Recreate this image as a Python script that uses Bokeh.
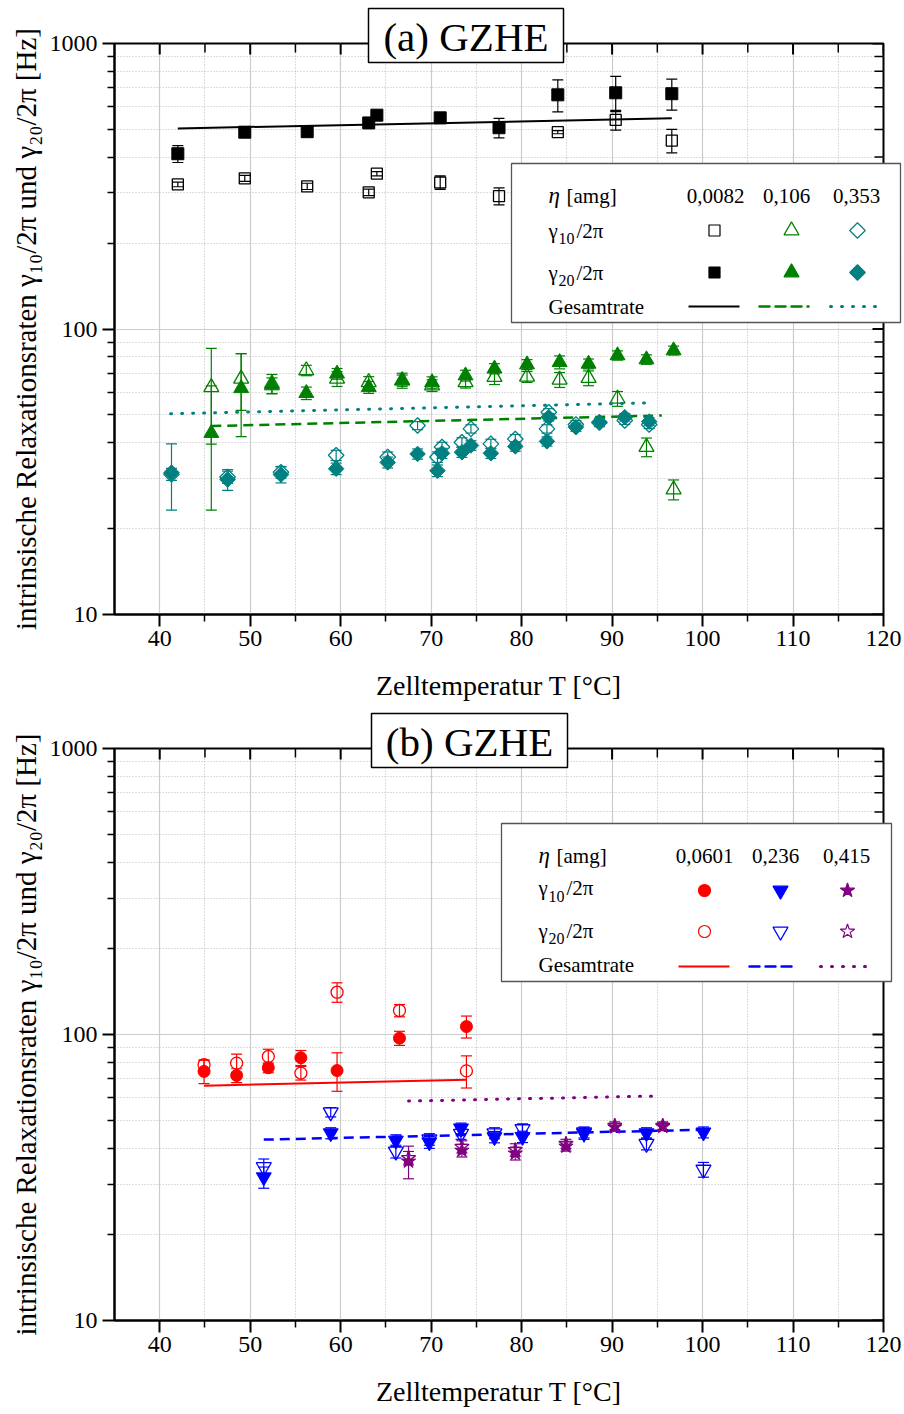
import math
from bokeh.plotting import figure
from bokeh.models import (Range1d, LinearScale, FixedTicker, BasicTickFormatter,
                          ColumnDataSource, Whisker, TeeHead, GridBox, Column)
from bokeh.core.properties import value
from bokeh.embed import file_html
from bokeh.resources import INLINE

FONT = "Liberation Serif"

# ---------------- axis ticks ----------------
x_ticks = [40, 50, 60, 70, 80, 90, 100, 110, 120]
x_minor = [45, 55, 65, 75, 85, 95, 105, 115]
y_ticks = [10, 100, 1000]
y_minor = [20, 30, 40, 50, 60, 70, 80, 90, 200, 300, 400, 500, 600, 700, 800, 900]

# ---------------- panel (a) data ----------------
a1_T = [42.0, 49.4, 56.3, 63.1, 64.0, 71.0, 77.5, 84.0, 90.4, 96.6]
a1_g20 = [411, 489, 491, 527, 561, 549, 507, 661, 672, 667]
a1_g20_err = [28, 12, 12, 15, 12, 12, 40, 85, 95, 83]
a1_g10 = [321, 337, 316, 301, 350, 326, 292, 489, 540, 457]
a1_g10_err = [6, 8, 8, 8, 6, 18, 20, 6, 43, 43]
a1_fit_T = [42.0, 96.6]
a1_fit = [504, 547]

a2_T = [45.7, 49.0, 52.4, 56.2, 59.6, 63.1, 66.8, 70.1, 73.8, 77.0, 80.6, 84.2, 87.4, 90.6, 93.8, 96.8]
a2_g20 = [43.2, 62.0, 63.4, 59.6, 69.7, 62.5, 66.0, 65.0, 68.7, 72.6, 75.1, 76.5, 75.5, 80.8, 78.2, 84.1]
a2_g20_err = [20, 20, 4, 3, 3, 3, 3, 3, 3, 3, 3, 4, 3, 3, 3, 3]
a2_g10 = [62.5, 66.9, 64.3, 71.6, 66.9, 65.1, 66.0, 63.4, 65.1, 67.9, 68.0, 66.4, 67.3, 57.0, 38.6, 27.4]
a2_g10_err = [23, 15, 5, 3, 4, 3, 4, 3, 3, 4, 3, 4, 4, 3.4, 2.9, 2.2]
a2_fit_T = [45.7, 95.5]
a2_fit = [45.7, 49.8]

a3_T = [41.3, 47.5, 53.4, 59.5, 65.2, 68.5, 70.7, 71.2, 73.4, 74.4, 76.6, 79.3, 82.8, 83.0, 86.0, 88.6, 91.4, 94.1]
a3_g20 = [31.4, 29.7, 30.9, 32.4, 34.1, 36.5, 31.9, 36.7, 37.0, 39.1, 36.7, 38.8, 40.4, 49.1, 45.3, 47.2, 49.1, 47.4]
a3_g20_err = [8.2, 2.5, 2, 1.5, 1.5, 1.5, 1.5, 1.5, 1.5, 1.5, 1.5, 1.5, 1.5, 1.5, 1.5, 1.5, 1.5, 1.5]
a3_g10 = [31.0, 30.3, 31.5, 36.1, 35.6, 45.9, 35.6, 38.6, 40.1, 44.7, 39.6, 41.2, 44.7, 51.1, 46.3, 47.0, 47.8, 46.3]
a3_g10_err = [1.5, 1.5, 1.5, 1.5, 1.5, 1.5, 1.5, 1.5, 1.5, 1.5, 1.5, 1.5, 1.5, 1.5, 1.5, 1.5, 1.5, 1.5]
a3_fit_T = [41.2, 93.8]
a3_fit = [50.5, 55.1]

a_eta = ["0,0082", "0,106", "0,353"]

# ---------------- panel (b) data ----------------
b1_T = [44.9, 48.5, 52.0, 55.6, 59.6, 66.5, 73.9]
b1_g10 = [74.3, 71.9, 76.5, 82.9, 74.8, 97.1, 106.6]
b1_g10_err = [7, 4, 3, 5, 11.5, 5.5, 9.4]
b1_g20 = [78.4, 79.4, 83.8, 73.3, 140.6, 121.3, 74.6]
b1_g20_err = [3, 6, 5, 4, 11, 6, 9.6]
b1_fit_T = [44.9, 73.9]
b1_fit = [66.2, 69.5]

b2_T = [51.5, 58.9, 66.1, 69.8, 73.3, 77.0, 80.1, 86.9, 93.8, 100.1]
b2_g10 = [31.7, 45.2, 42.6, 42.0, 47.0, 43.8, 43.9, 45.0, 45.2, 45.5]
b2_g10_err = [2.7, 2, 2, 2, 2, 2, 2, 2, 2, 2]
b2_g20 = [34.4, 53.5, 39.0, 43.0, 45.0, 45.2, 46.7, 45.5, 41.5, 33.7]
b2_g20_err = [2.3, 2, 2, 2, 2, 2, 2, 2, 2, 2]
b2_fit_T = [51.5, 100.9]
b2_fit = [42.9, 46.5]

b3_T = [67.5, 73.4, 79.3, 84.9, 90.3, 95.6]
b3_g10 = [36.0, 39.3, 38.4, 40.6, 47.4, 47.6]
b3_g10_err = [4.7, 2, 2, 1.5, 1.5, 1.5]
b3_g20 = [37.0, 40.5, 39.5, 41.5, 48.0, 48.0]
b3_g20_err = [2, 2, 2, 1.5, 1.5, 1.5]
b3_fit_T = [67.5, 94.5]
b3_fit = [58.5, 60.9]

b_eta = ["0,0601", "0,236", "0,415"]

GREEN = "#008000"
TEAL = "#008080"
RED = "#ff0000"
BLUE = "#0000ff"
PURPLE = "#800080"

Y_LABEL = "intrinsische Relaxationsraten \u03b3\u2081\u2080/2\u03c0 und \u03b3\u2082\u2080/2\u03c0 [Hz]"
X_LABEL = "Zelltemperatur T [\u00b0C]"

FRAME_L, FRAME_R = 114, 883
PANEL_H = 707


def style_axis(ax, ticker):
    ax.ticker = ticker
    ax.formatter = BasicTickFormatter()
    ax.axis_line_width = 2
    ax.axis_line_color = "black"
    ax.major_tick_line_width = 2
    ax.minor_tick_line_width = 1.5
    ax.major_tick_line_color = "black"
    ax.minor_tick_line_color = "black"
    ax.major_tick_out = 12
    ax.major_tick_in = 0
    ax.minor_tick_out = 7
    ax.minor_tick_in = 0
    ax.major_label_text_font = FONT
    ax.major_label_text_font_size = "24px"
    ax.major_label_text_color = "black"
    ax.axis_label_text_font = FONT
    ax.axis_label_text_font_style = "normal"
    ax.axis_label_text_color = "black"


def make_panel(top_border, bottom_border, page_top, page_bottom):
    p = figure(width=904, height=PANEL_H, x_range=Range1d(35, 120), y_range=Range1d(10, 1000),
               y_axis_type="log", output_backend="svg", toolbar_location=None,
               min_border_left=FRAME_L, min_border_right=904 - FRAME_R, min_border_top=top_border,
               min_border_bottom=bottom_border)
    p.outline_line_color = "black"
    p.outline_line_width = 2
    p.background_fill_color = "white"
    p.border_fill_color = "white"
    p.extra_x_ranges = {"px": Range1d(FRAME_L, FRAME_R)}
    p.extra_y_ranges = {"px": Range1d(page_bottom, page_top)}
    p.extra_x_scales = {"px": LinearScale()}
    p.extra_y_scales = {"px": LinearScale()}

    xt = FixedTicker(ticks=x_ticks, minor_ticks=x_minor)
    yt = FixedTicker(ticks=y_ticks, minor_ticks=y_minor)

    bx, ly = p.below[0], p.left[0]
    style_axis(bx, xt)
    style_axis(ly, yt)
    bx.major_label_standoff = 4
    ly.major_label_standoff = 5
    bx.axis_label = X_LABEL
    bx.axis_label_text_font_size = "28px"
    bx.axis_label_standoff = 21
    ly.axis_label = Y_LABEL
    ly.axis_label_text_font_size = "29px"
    ly.axis_label_standoff = 5

    for g, t in ((p.xgrid, xt), (p.ygrid, yt)):
        g.ticker = t
        g.grid_line_color = "#cccccc"
        g.grid_line_width = 1.2
        g.minor_grid_line_color = "#bbbbbb"
        g.minor_grid_line_width = 1
        g.minor_grid_line_dash = "1 2"

    for ticks, ln, lw in ((x_ticks, 11, 2), (x_minor, 9, 1.5)):
        p.segment(x0=ticks, x1=ticks, y0=[page_top] * len(ticks), y1=[page_top + ln] * len(ticks),
                  y_range_name="px", line_color="black", line_width=lw)
    for ticks, ln, lw in ((y_ticks, 11, 2), (y_minor, 9, 1.5)):
        p.segment(x0=[FRAME_R] * len(ticks), x1=[FRAME_R - ln] * len(ticks), y0=ticks, y1=ticks,
                  x_range_name="px", line_color="black", line_width=lw)
    return p


def make_overlay(page_top):
    o = figure(width=904, height=PANEL_H, x_range=Range1d(0, 904),
               y_range=Range1d(page_top + PANEL_H, page_top), x_axis_type=None, y_axis_type=None,
               output_backend="svg", toolbar_location=None, min_border=0,
               min_border_left=0, min_border_right=0, min_border_top=0, min_border_bottom=0)
    o.outline_line_color = None
    o.background_fill_color = None
    o.border_fill_color = None
    return o


def add_series(p, T, y, err, color, marker, size, filled, angle=0.0):
    lo = [v - e for v, e in zip(y, err)]
    hi = [v + e for v, e in zip(y, err)]
    src = ColumnDataSource(dict(x=T, y=y, lo=lo, hi=hi))
    w = Whisker(source=src, base="x", lower="lo", upper="hi", dimension="height",
                line_color=color, line_width=1.2,
                upper_head=TeeHead(size=11, line_color=color, line_width=1.2),
                lower_head=TeeHead(size=11, line_color=color, line_width=1.2))
    p.add_layout(w)
    p.scatter("x", "y", source=src, marker=marker, size=size, angle=angle,
              fill_color=color if filled else None, line_color=color,
              line_width=1 if filled else 1.3)


def otext(o, x, y, text, size="21px", align="left", style="normal", baseline="alphabetic"):
    o.text(x=[x], y=[y], text=[text], text_font=value(FONT), text_font_size=value(size),
           text_align=value(align), text_baseline=value(baseline), text_font_style=value(style),
           text_color="black")


def gamma_label(o, x, base, sub_base, sub):
    otext(o, x, base, "\u03b3")
    otext(o, x + 10, sub_base, sub, size="16px")
    otext(o, x + 28, base, "/2\u03c0")


def build_legend(o, box, eta_x, eta_vals, num_x, head_base, rows, mark_x, markers, line_x, lines):
    l, t, r, b = box
    o.quad(left=[l], right=[r], top=[t], bottom=[b], fill_color="white",
           line_color="#555555", line_width=1.3)
    otext(o, eta_x, head_base, "\u03b7", size="23px", style="italic")
    otext(o, eta_x + 18, head_base, "[amg]")
    for xx, txt in zip(num_x, eta_vals):
        otext(o, xx, head_base, txt, align="center")
    (g10_base, g10_sub, g10_my), (g20_base, g20_sub, g20_my), (ges_base, ges_ly) = rows
    gamma_label(o, eta_x, g10_base, g10_sub, "10")
    gamma_label(o, eta_x, g20_base, g20_sub, "20")
    otext(o, eta_x, ges_base, "Gesamtrate")
    for xx, (color, marker, size, ang, fill10, fill20) in zip(mark_x, markers):
        for my, filled in ((g10_my, fill10), (g20_my, fill20)):
            o.scatter([xx], [my], marker=marker, size=size, angle=ang,
                      fill_color=color if filled else None, line_color=color, line_width=1.2)
    for (x0, x1), (color, dash, lw) in zip(line_x, lines):
        o.line([x0, x1], [ges_ly, ges_ly], line_color=color, line_dash=dash, line_width=lw,
               line_cap="round" if dash != "solid" else "butt")


def title_box(o, box, text):
    l, t, r, b = box
    o.quad(left=[l], right=[r], top=[t], bottom=[b], fill_color="white",
           line_color="black", line_width=1.5)
    otext(o, (l + r) / 2, (t + b) / 2 + 1, text, size="41px", align="center", baseline="middle")


DIAMOND = math.pi / 4

# ---------------- panel (a) ----------------
pa = make_panel(43, 93, 43, 614)
add_series(pa, a3_T, a3_g10, a3_g10_err, TEAL, "square", 11, False, DIAMOND)
add_series(pa, a2_T, a2_g10, a2_g10_err, GREEN, "triangle", 15, False)
add_series(pa, a1_T, a1_g10, a1_g10_err, "black", "square", 11, False)
pa.line(a1_fit_T, a1_fit, line_color="black", line_width=2)
pa.line(a2_fit_T, a2_fit, line_color=GREEN, line_width=2.5, line_dash="10 6")
pa.line(a3_fit_T, a3_fit, line_color=TEAL, line_width=3, line_dash="1 10", line_cap="round")
add_series(pa, a3_T, a3_g20, a3_g20_err, TEAL, "square", 11, True, DIAMOND)
add_series(pa, a2_T, a2_g20, a2_g20_err, GREEN, "triangle", 15, True)
add_series(pa, a1_T, a1_g20, a1_g20_err, "black", "square", 12, True)

oa = make_overlay(0)
build_legend(oa, (511, 163, 900, 322), 548, a_eta, [715, 786, 856], 195,
             ((230, 238, 230), (272, 280, 272), (306, 306)),
             [714, 791, 857],
             [("black", "square", 11, 0.0, False, True),
              (GREEN, "triangle", 15, 0.0, False, True),
              (TEAL, "square", 11, DIAMOND, False, True)],
             [(688, 739), (759, 808), (830, 880)],
             [("black", "solid", 2), (GREEN, "10 6", 2.5), (TEAL, "1 10", 3)])
title_box(oa, (368, 8, 563, 62), "(a) GZHE")

# ---------------- panel (b) ----------------
pb = make_panel(41, 94, 748, 1320)
add_series(pb, b1_T, b1_g20, b1_g20_err, RED, "circle", 12, False)
add_series(pb, b2_T, b2_g20, b2_g20_err, BLUE, "inverted_triangle", 15, False)
add_series(pb, b3_T, b3_g20, b3_g20_err, PURPLE, "star", 15, False)
pb.line(b1_fit_T, b1_fit, line_color=RED, line_width=2)
pb.line(b2_fit_T, b2_fit, line_color=BLUE, line_width=2.5, line_dash="10 6")
pb.line(b3_fit_T, b3_fit, line_color=PURPLE, line_width=3, line_dash="1 10", line_cap="round")
add_series(pb, b1_T, b1_g10, b1_g10_err, RED, "circle", 12, True)
add_series(pb, b2_T, b2_g10, b2_g10_err, BLUE, "inverted_triangle", 15, True)
add_series(pb, b3_T, b3_g10, b3_g10_err, PURPLE, "star", 15, True)

ob = make_overlay(PANEL_H)
build_legend(ob, (501, 823, 891, 981), 538, b_eta, [704, 775, 846], 855,
             ((887, 896, 890), (930, 938, 931), (964, 966)),
             [704, 780, 847],
             [(RED, "circle", 12, 0.0, True, False),
              (BLUE, "inverted_triangle", 15, 0.0, True, False),
              (PURPLE, "star", 15, 0.0, True, False)],
             [(678, 729), (749, 797), (820, 870)],
             [(RED, "solid", 2), (BLUE, "10 6", 2.5), (PURPLE, "1 10", 3)])
title_box(ob, (371, 713, 567, 767), "(b) GZHE")

layout = GridBox(children=[(pa, 0, 0), (Column(children=[oa]), 0, 0),
                           (pb, 1, 0), (Column(children=[ob]), 1, 0)], spacing=0)
open("out.html", "w").write(file_html(layout, INLINE))
